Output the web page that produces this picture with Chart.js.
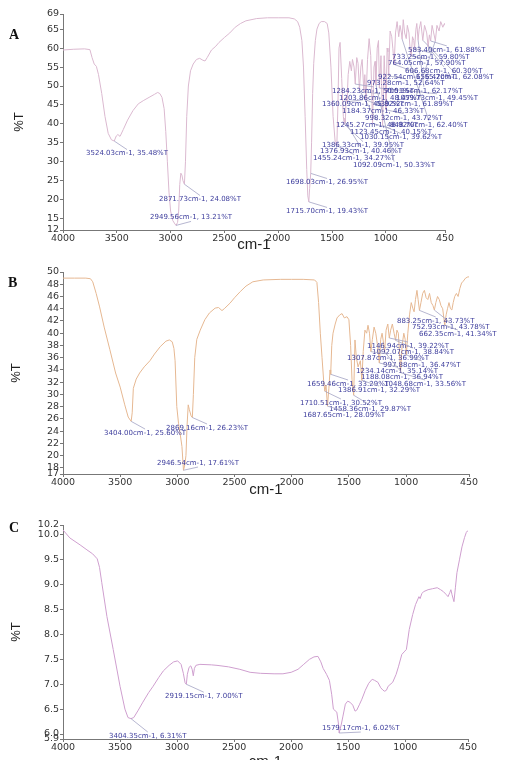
<!DOCTYPE html>
<html>
<head>
<meta charset="utf-8">
<title>FTIR</title>
<script src="https://cdn.jsdelivr.net/npm/chart.js@4.4.0/dist/chart.umd.min.js"></script>
<style>
  html, body { margin: 0; padding: 0; background: #fff; width: 507px; height: 760px; overflow: hidden; }
  .panel { position: absolute; left: 0; width: 507px; }
  .tag { position: absolute; font: bold 14px "Liberation Serif", serif; color: #111; }
</style>
</head>
<body>
<div class="panel" style="top:0;height:256px"><canvas id="specA"></canvas></div>
<div class="panel" style="top:250px;height:250px"><canvas id="specB"></canvas></div>
<div class="panel" style="top:500px;height:272px"><canvas id="specC"></canvas></div>
<div class="tag" style="left:9px;top:27px">A</div>
<div class="tag" style="left:8px;top:275px">B</div>
<div class="tag" style="left:9px;top:520px">C</div>

<script>
// ---- ejes
const xTicks = [4000, 3500, 3000, 2500, 2000, 1500, 1000, 450];
const yTicksA = [12, 15, 20, 25, 30, 35, 40, 45, 50, 55, 60, 65, 69];
const yTicksB = [17, 18, 20, 22, 24, 26, 28, 30, 32, 34, 36, 38, 40, 42, 44, 46, 48, 50];
const yTicksC = [5.9, 6.0, 6.5, 7.0, 7.5, 8.0, 8.5, 9.0, 9.5, 10.0, 10.2];

// ---- espectro A  [cm-1, %T]
const specA = [
  [4000,59.5],[3900,59.7],[3800,59.8],[3750,59.6],[3730,57.5],[3710,55.8],[3690,55.2],[3670,53],
  [3640,48],[3610,42],[3580,37.5],[3550,35.8],[3524.03,35.48],[3505,36.8],[3490,37.2],[3470,36.7],
  [3440,38.5],[3400,41],[3350,43.5],[3300,45.3],[3250,46.2],[3200,47],[3150,47.8],[3120,48.3],
  [3100,48],[3080,47],[3060,44],[3045,38],[3030,30],[3015,22],[3000,17],[2980,14.5],[2960,13.6],
  [2949.56,13.21],[2935,14],[2925,17],[2915,24],[2905,27],[2895,26.5],[2885,25],[2871.73,24.08],
  [2862,30],[2850,42],[2835,50],[2815,54],[2790,55.8],[2760,57],[2730,57.3],[2700,56.8],[2680,56.6],
  [2660,57.5],[2620,59.5],[2580,60.5],[2550,61.5],[2500,62.8],[2450,64],[2400,65.5],[2350,66.5],
  [2300,67.2],[2200,67.8],[2100,68],[2000,68],[1900,68],[1850,67.7],[1820,67],[1800,65.5],[1780,62],
  [1765,55],[1750,42],[1735,28],[1725,21],[1715.70,19.43],[1708,23],[1698.03,26.95],[1690,35],
  [1680,48],[1670,56],[1655,62],[1640,65],[1620,66.5],[1600,67],[1570,67],[1545,66.5],[1530,64],
  [1510,55],[1490,42],[1470,35],[1455.24,34.27],[1445,45],[1435,60],[1425,61.5],[1410,52],[1395,42],
  [1386.33,39.95],[1381,41.5],[1376.93,40.46],[1368,47],[1360.09,45.82],[1350,53],[1335,56.5],
  [1320,54],[1310,57],[1295,55],[1284.23,50.51],[1270,57.5],[1258,56],[1245.27,48.92],[1232,55],
  [1220,57],[1203.86,48.47],[1195,53],[1184.37,46.33],[1170,57],[1155,62.5],[1140,58],[1123.45,40.15],
  [1110,55],[1100,56.5],[1092.09,50.33],[1080,60],[1068,62],[1059.73,49.45],[1045,58],[1030.15,39.62],
  [1015,58],[1005,50],[998.32,43.72],[988,60],[980,59],[973.28,52.64],[960,64.5],[945,63],[935,60],
  [922.54,55.70],[910,64],[895,67],[880,63],[868,66],[855,64],[848.70,62.40],[838,67.5],[825,64],
  [810,62.5],[800,66],[785,64],[775,60],[764.05,57.90],[752,63],[740,62],[733.25,59.80],[720,65],
  [712,66.5],[700.15,62.17],[690,65],[675,67],[666,64.5],[656.42,62.08],[640,66],[620,64],
  [606.68,60.30],[595,63.5],[583.40,61.88],[570,66],[555,64],[539.52,61.89],[525,66],[505,64.5],
  [490,67],[470,65.5],[455,66.5],[450,66]
];
const peaksA = [
  [3524.03,35.48],[2871.73,24.08],[2949.56,13.21],[1698.03,26.95],[1715.70,19.43],[1455.24,34.27],
  [1376.93,40.46],[1386.33,39.95],[1092.09,50.33],[1030.15,39.62],[1123.45,40.15],[1245.27,48.92],
  [848.70,62.40],[998.32,43.72],[1184.37,46.33],[1360.09,45.82],[539.52,61.89],[1203.86,48.47],
  [1059.73,49.45],[1284.23,50.51],[700.15,62.17],[973.28,52.64],[922.54,55.70],[656.42,62.08],
  [606.68,60.30],[764.05,57.90],[733.25,59.80],[583.40,61.88]
];
// donde va el texto de cada etiqueta (borde izquierdo, en unidades de datos)
const labelAtA = [
  [3786,32.16],[3108,20.05],[3191,15.32],[1927,24.53],[1927,16.9],[1676,30.84],
  [1611,32.68],[1593,34.26],[1305,29.0],[1240,36.37],[1333,37.68],[1463,39.79],
  [961,39.79],[1193,41.63],[1407,43.47],[1593,45.32],[1091,45.32],[1435,46.89],
  [905,46.89],[1500,48.74],[1007,48.74],[1175,50.84],[1072,52.42],[719,52.42],
  [821,54.0],[979,56.1],[942,57.68],[794,59.53]
];

// ---- espectro B
const specB = [
  [4000,49],[3900,49],[3800,49],[3760,48.9],[3740,48.4],[3710,46.5],[3680,44.3],[3640,41],[3590,37.3],
  [3540,33.5],[3500,31.2],[3460,28.3],[3430,26.3],[3404.00,25.60],[3395,27],[3385,31],[3360,32.5],
  [3330,33.5],[3290,34.5],[3240,35.5],[3200,36.6],[3150,37.8],[3100,38.7],[3070,38.9],[3045,38.6],
  [3030,37.5],[3020,35.5],[3005,28],[2990,25.3],[2975,23.5],[2960,21.5],[2946.54,17.61],[2935,18.5],
  [2925,20],[2915,25],[2905,28.3],[2895,27.5],[2880,26.5],[2869.16,26.23],[2860,30],[2848,36],[2830,39],
  [2800,40.5],[2760,42.2],[2720,43.3],[2670,44.1],[2640,44.2],[2610,43.7],[2590,44],[2540,44.9],
  [2500,45.8],[2450,46.8],[2400,47.7],[2340,48.4],[2250,48.7],[2100,48.8],[2000,48.8],[1900,48.8],
  [1800,48.7],[1780,48.3],[1765,45],[1750,40],[1735,36],[1720,32],[1710.51,30.52],[1700,31.5],
  [1687.65,28.09],[1675,31],[1665,34],[1659.46,33.29],[1650,38],[1639,40],[1620,41.5],[1604,42.5],
  [1580,43],[1560,43.2],[1540,42.5],[1517,42.7],[1500,42.2],[1485,38],[1473,32.4],[1458.36,29.87],
  [1447,38.9],[1435,36],[1420,34.5],[1400,35.5],[1386.91,32.29],[1375,37],[1360,40.5],[1345,40],
  [1333,41.3],[1320,40],[1307.87,36.99],[1295,39],[1280,41],[1265,40],[1250,38],[1234.14,35.14],
  [1222,39],[1210,40],[1198,38.5],[1188.08,36.94],[1175,40.5],[1160,41.5],[1146.94,39.22],[1135,40.5],
  [1120,41.5],[1105,40],[1092.07,38.84],[1080,40.5],[1068,40],[1058,37],[1048.68,33.56],[1035,38],
  [1020,40],[1008,39],[997.88,36.47],[985,40],[970,43],[955,45],[940,44],[930,43.5],[918,45.5],
  [905,47],[895,45.5],[883.25,43.73],[870,45],[855,46.5],[840,47],[825,45.8],[810,45.5],[795,46.5],
  [780,45],[765,44.5],[752.93,43.78],[740,45],[725,46],[710,45.5],[695,44.5],[680,44],[670,42.5],
  [662.35,41.34],[650,43],[638,44],[625,45],[612,44],[600,43.8],[588,45],[575,46],[560,46.5],
  [545,46],[530,47.3],[515,48.2],[500,48.5],[480,49],[460,49.2],[450,49.2]
];
const peaksB = [
  [883.25,43.73],[752.93,43.78],[662.35,41.34],[1146.94,39.22],[1092.07,38.84],[1307.87,36.99],
  [997.88,36.47],[1234.14,35.14],[1188.08,36.94],[1659.46,33.29],[1048.68,33.56],[1386.91,32.29],
  [1710.51,30.52],[1458.36,29.87],[1687.65,28.09],[3404.00,25.60],[2869.16,26.23],[2946.54,17.61]
];
const labelAtB = [
  [1080,42.0],[948,41.01],[887,39.87],[1342,37.91],[1298,36.93],[1517,35.95],
  [1202,34.8],[1438,33.82],[1394,32.84],[1866,31.7],[1193,31.7],[1595,30.72],
  [1928,28.59],[1674,27.61],[1901,26.63],[3641,23.69],[3099,24.51],[3178,18.79]
];

// ---- espectro C
const specC = [
  [4000,10.1],[3940,9.94],[3850,9.8],[3790,9.7],[3740,9.62],[3700,9.52],[3680,9.35],[3660,9.04],
  [3615,8.36],[3560,7.7],[3500,6.96],[3457,6.5],[3430,6.33],[3404.35,6.31],[3380,6.33],[3340,6.48],
  [3300,6.64],[3250,6.83],[3210,6.96],[3160,7.14],[3120,7.27],[3070,7.38],[3030,7.45],[2995,7.47],
  [2965,7.4],[2945,7.22],[2930,7.03],[2919.15,7.00],[2910,7.2],[2895,7.34],[2880,7.37],[2868,7.3],
  [2858,7.17],[2848,7.32],[2835,7.38],[2800,7.4],[2700,7.39],[2650,7.38],[2550,7.35],[2450,7.3],
  [2360,7.24],[2270,7.22],[2150,7.21],[2072,7.21],[2000,7.24],[1940,7.3],[1890,7.4],[1840,7.5],
  [1800,7.55],[1765,7.56],[1740,7.45],[1720,7.32],[1690,7.2],[1665,7.08],[1645,6.8],[1630,6.5],
  [1600,6.44],[1585,6.2],[1579.17,6.02],[1560,6.2],[1546,6.36],[1525,6.6],[1505,6.66],[1485,6.64],
  [1460,6.58],[1440,6.46],[1425,6.48],[1400,6.6],[1380,6.7],[1350,6.88],[1320,7.02],[1290,7.1],
  [1270,7.08],[1240,7.04],[1215,6.93],[1195,6.88],[1180,6.86],[1165,6.88],[1150,6.96],[1110,7.04],
  [1080,7.2],[1060,7.35],[1030,7.6],[1010,7.65],[990,7.7],[965,8.1],[935,8.4],[910,8.6],[880,8.76],
  [870,8.72],[855,8.82],[840,8.86],[800,8.9],[760,8.92],[720,8.94],[690,8.9],[665,8.86],[640,8.8],
  [625,8.76],[610,8.84],[600,8.9],[590,8.8],[573,8.66],[560,8.95],[547,9.24],[525,9.5],[503,9.76],
  [480,9.95],[465,10.05],[455,10.08],[450,10.07]
];
const peaksC = [[2919.15,7.00],[3404.35,6.31],[1579.17,6.02]];
const labelAtC = [[3106,6.76],[3597,5.96],[1730,6.12]];

// etiquetas de picos con línea guía (estilo OMNIC)
const peakLabels = {
  id: 'peakLabels',
  afterDatasetsDraw(chart, args, opts) {
    const {ctx, scales: {x, y}} = chart;
    ctx.save();
    ctx.font = '7px "DejaVu Sans"';
    ctx.textBaseline = 'middle';
    opts.peaks.forEach((p, i) => {
      const txt = p[0].toFixed(2) + 'cm-1, ' + p[1].toFixed(2) + '%T';
      const px = x.getPixelForValue(p[0]), py = y.getPixelForValue(p[1]);
      const lx = x.getPixelForValue(opts.at[i][0]), ly = y.getPixelForValue(opts.at[i][1]);
      const w = ctx.measureText(txt).width;
      const ex = lx + w / 2, ey = py < ly ? ly - 4 : ly + 4;
      ctx.strokeStyle = '#a3a3c4';
      ctx.lineWidth = 0.8;
      ctx.beginPath(); ctx.moveTo(px, py); ctx.lineTo(ex, ey); ctx.stroke();
      ctx.fillStyle = '#3c3c9c';
      ctx.fillText(txt, lx, ly);
    });
    ctx.restore();
  }
};

const tickFont = { family: 'DejaVu Sans', size: 9.5 };

function spectrum(id, o) {
  const ctx = document.getElementById(id).getContext('2d');
  return new Chart(ctx, {
    type: 'line',
    data: {
      datasets: [{
        data: o.data.map(p => ({ x: p[0], y: p[1] })),
        borderColor: o.color,
        borderWidth: 1,
        pointRadius: 0,
        tension: 0,
        fill: false
      }]
    },
    options: {
      responsive: true,
      maintainAspectRatio: false,
      animation: false,
      layout: { padding: { top: o.top, right: o.right, left: 0, bottom: 0 } },
      plugins: {
        legend: { display: false },
        tooltip: { enabled: false },
        peakLabels: { peaks: o.peaks, at: o.at }
      },
      scales: {
        x: {
          type: 'linear', reverse: true, min: 450, max: 4000,
          afterBuildTicks: s => { s.ticks = xTicks.map(v => ({ value: v })); },
          afterFit: s => { s.height = o.xh; },
          grid: { drawOnChartArea: false, tickLength: 3, color: '#777' },
          border: { color: '#777' },
          ticks: { padding: 0, autoSkip: false, maxRotation: 0, font: tickFont, color: '#333',
                   callback: v => String(v) },
          title: { display: true, text: 'cm-1', color: '#222',
                   font: { family: 'Liberation Sans', size: 15 }, padding: { top: 0, bottom: o.tb } }
        },
        y: {
          min: o.yTicks[0], max: o.yTicks[o.yTicks.length - 1],
          afterBuildTicks: s => { s.ticks = o.yTicks.map(v => ({ value: v })); },
          afterFit: s => { s.width = 63; },
          grid: { drawOnChartArea: false, tickLength: 3, color: '#777' },
          border: { color: '#777' },
          ticks: { padding: 1, autoSkip: false, font: tickFont, color: '#333',
                   callback: o.fmt || (v => String(v)) },
          title: { display: true, text: '%T', color: '#222',
                   font: { family: 'Liberation Sans', size: 13 }, padding: { top: o.tp, bottom: 0 } }
        }
      }
    },
    plugins: [peakLabels]
  });
}

spectrum('specA', { data: specA, peaks: peaksA, at: labelAtA, yTicks: yTicksA, color: '#dbb9d0',
  top: 14, right: 62, xh: 26, tb: 2, tp: 12 });
spectrum('specB', { data: specB, peaks: peaksB, at: labelAtB, yTicks: yTicksB, color: '#e6b892',
  top: 22, right: 38, xh: 26, tb: 1, tp: 9 });
spectrum('specC', { data: specC, peaks: peaksC, at: labelAtC, yTicks: yTicksC, color: '#cf9fcf',
  top: 25, right: 39, xh: 33, tb: 1, tp: 9, fmt: v => v.toFixed(1) });
</script>
</body>
</html>
